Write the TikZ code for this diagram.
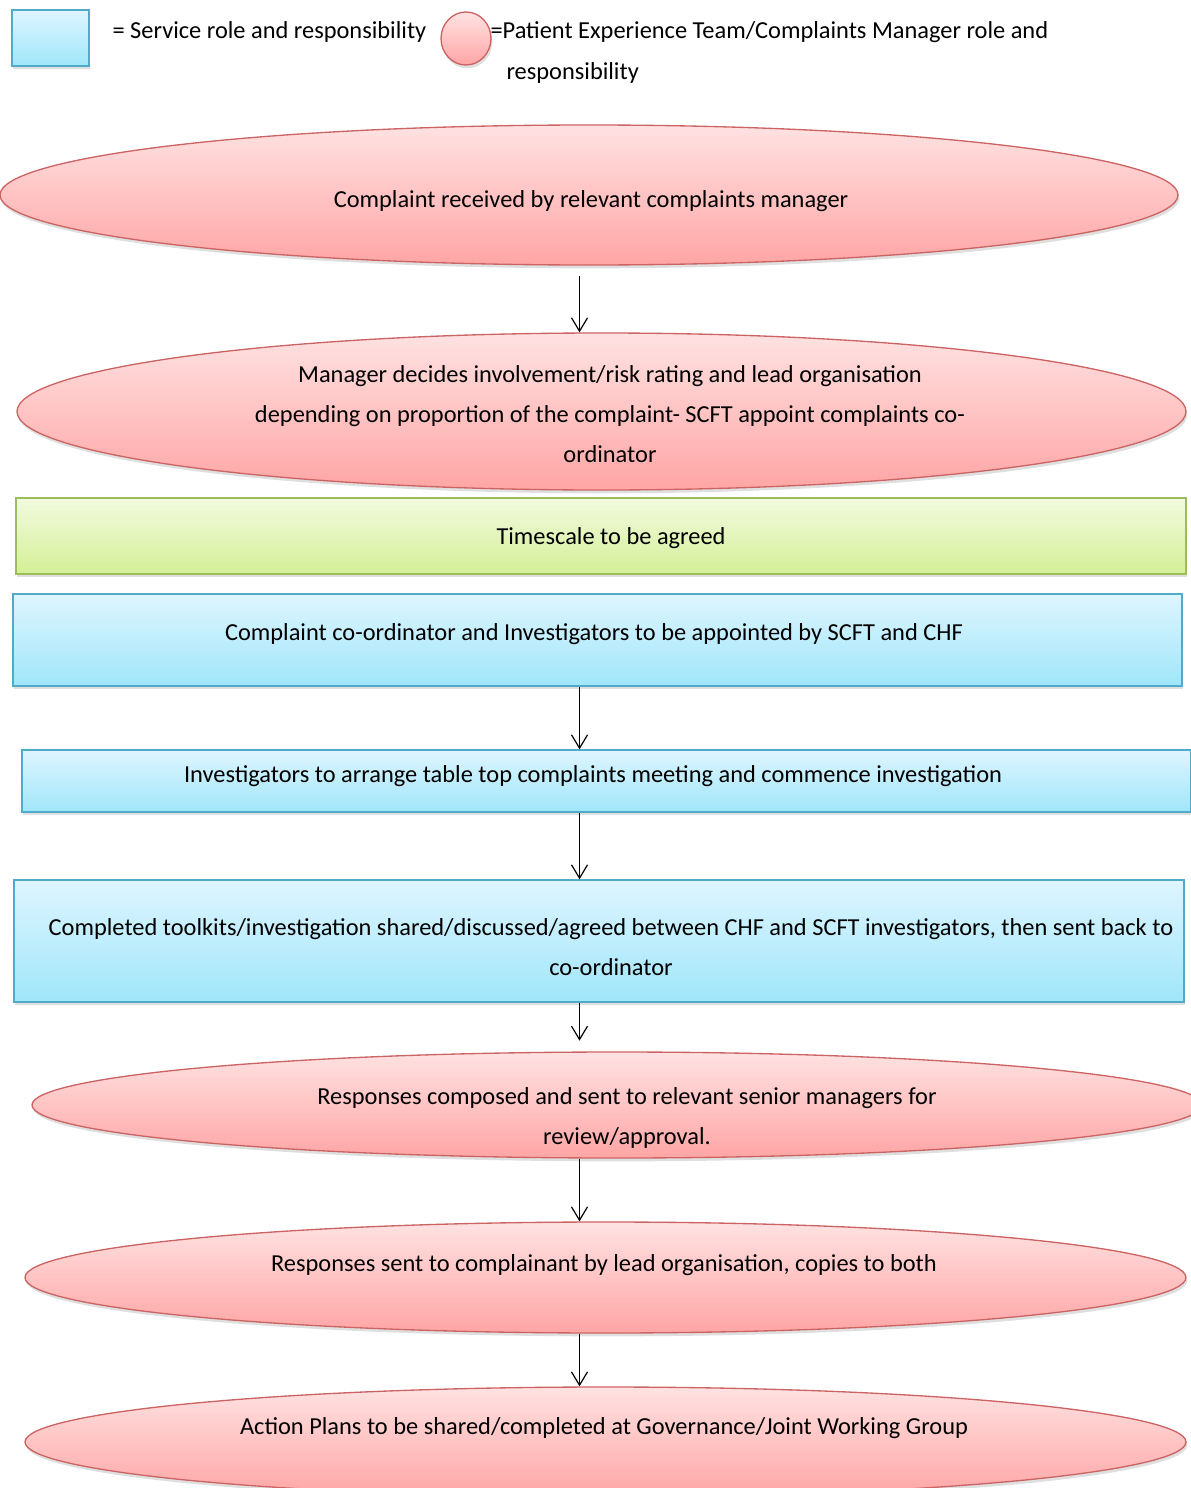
\documentclass[tikz,border=0pt]{standalone}
\usepackage{fontspec}
\setmainfont{Carlito}
\usetikzlibrary{shapes.geometric,shadows,arrows.meta}

\definecolor{pinkline}{RGB}{205,100,100}
\definecolor{pinktop}{RGB}{255,226,226}
\definecolor{pinkbot}{RGB}{255,165,165}
\definecolor{blueline}{RGB}{80,170,200}
\definecolor{bluetop}{RGB}{222,245,255}
\definecolor{bluebot}{RGB}{160,230,250}
\definecolor{greenline}{RGB}{155,190,90}
\definecolor{greentop}{RGB}{242,250,224}
\definecolor{greenbot}{RGB}{212,240,150}

\tikzset{every picture/.style={line width=0.75pt}}
\tikzset{
  team/.style={ellipse, draw=pinkline, line width=1pt, top color=pinktop, bottom color=pinkbot, inner sep=0pt,
    drop shadow={shadow xshift=1pt, shadow yshift=-2.5pt, opacity=0.25}},
  service/.style={rectangle, draw=blueline, line width=1pt, top color=bluetop, bottom color=bluebot, inner sep=0pt,
    drop shadow={shadow xshift=1pt, shadow yshift=-2.5pt, opacity=0.25}},
  agreed/.style={rectangle, draw=greenline, line width=1pt, top color=greentop, bottom color=greenbot, inner sep=0pt,
    drop shadow={shadow xshift=1pt, shadow yshift=-2.5pt, opacity=0.25}},
  txt/.style={inner sep=0.75pt, align=center, font=\fontsize{18.3}{30}\selectfont},
  flow/.style={-{Straight Barb[length=10pt,width=12pt]}, line width=0.9pt},
}

\begin{document}
\begin{tikzpicture}[x=0.75pt,y=0.75pt,yscale=-1,xscale=1]
\useasboundingbox (0,0) rectangle (1191,1488);

% Legend
\node [service, minimum width=57.75pt, minimum height=42pt] (keyBox) at (50.5,38) {};
\node [txt, anchor=west] (keyBoxText) at (111,32) {= Service role and responsibility};
\node [team, minimum width=37.5pt, minimum height=39.75pt] (keyOval) at (466,38.5) {};
\node [txt, anchor=west] (keyOvalText) at (489,32) {=Patient Experience Team/Complaints Manager role and};
\node [txt, anchor=west] (keyOvalText2) at (505,73) {responsibility};

% Shapes
\node [team, minimum width=883.5pt, minimum height=105pt] (received) at (589,195) {};
\node [team, minimum width=876.75pt, minimum height=117.75pt] (decides) at (601.5,411.5) {};
\node [agreed, minimum width=877.5pt, minimum height=57pt] (timescale) at (601,536) {};
\node [service, minimum width=876.75pt, minimum height=69pt] (appoint) at (597.5,640) {};
\node [service, minimum width=876.75pt, minimum height=46.5pt] (meeting) at (606.5,781) {};
\node [service, minimum width=877.5pt, minimum height=91.5pt] (shared) at (599,941) {};
\node [team, minimum width=877.5pt, minimum height=79.5pt] (composed) at (617,1105) {};
\node [team, minimum width=870.75pt, minimum height=83.25pt] (sent) at (605.5,1277.5) {};
\node [team, minimum width=870.75pt, minimum height=82.5pt] (plans) at (605.5,1442) {};

% Text Nodes
\node [txt] (receivedText) at (591,201) {Complaint received by relevant complaints manager};
\node [txt] (decidesText) at (610,414) {Manager decides involvement/risk rating and lead organisation\\depending on proportion of the complaint- SCFT appoint complaints co-\\ordinator};
\node [txt] (timescaleText) at (611,538) {Timescale to be agreed};
\node [txt] (appointText) at (594,634) {Complaint co-ordinator and Investigators to be appointed by SCFT and CHF};
\node [txt] (meetingText) at (593,776) {Investigators to arrange table top complaints meeting and commence investigation};
\node [txt] (sharedText) at (611,947) {Completed toolkits/investigation shared/discussed/agreed between CHF and SCFT investigators, then sent back to\\co-ordinator};
\node [txt] (composedText) at (627,1118) {Responses composed and sent to relevant senior managers for\\review/approval.};
\node [txt] (sentText) at (604,1265) {Responses sent to complainant by lead organisation, copies to both};
\node [txt] (plansText) at (604,1428) {Action Plans to be shared/completed at Governance/Joint Working Group};

% Arrows
\coordinate (spine) at (579.5,0);
\draw [flow, shorten <=7.5pt] (received.south -| spine) -- (decides.north -| spine);
\draw [flow] (appoint.south -| spine) -- (meeting.north -| spine);
\draw [flow] (meeting.south -| spine) -- (shared.north -| spine);
\draw [flow, shorten >=8pt] (shared.south -| spine) -- (composed.north -| spine);
\draw [flow] (composed.south -| spine) -- (sent.north -| spine);
\draw [flow] (sent.south -| spine) -- (plans.north -| spine);

\end{tikzpicture}
\end{document}
